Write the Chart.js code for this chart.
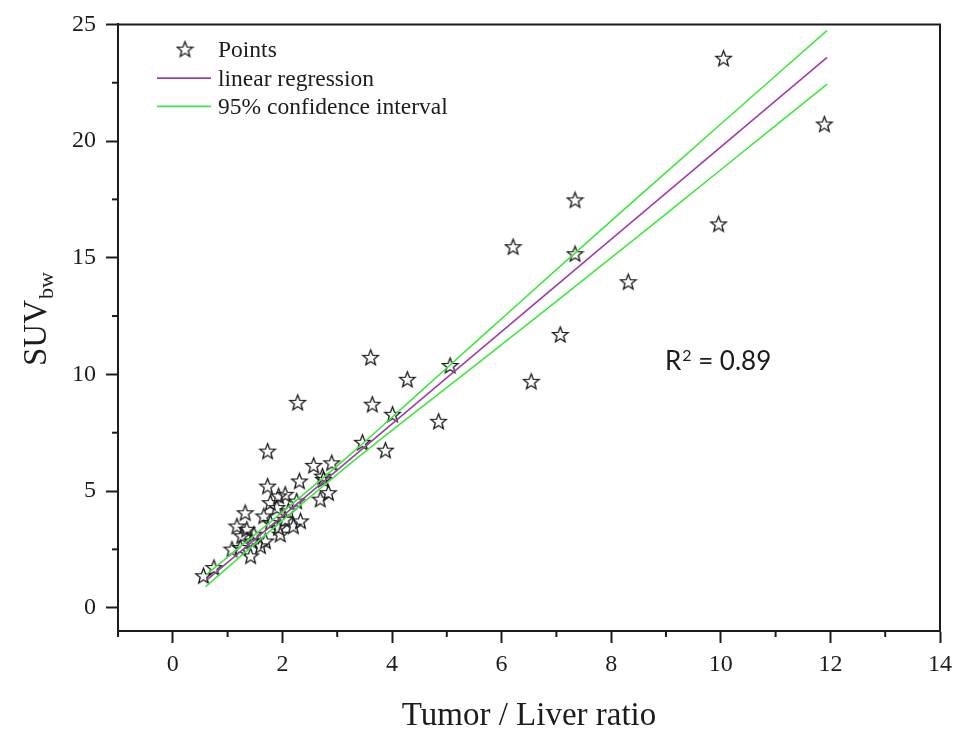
<!DOCTYPE html>
<html><head><meta charset="utf-8">
<script src="https://cdn.jsdelivr.net/npm/chart.js@4.4.1/dist/chart.umd.min.js"></script>
<style>html,body{margin:0;padding:0;background:#fff}#wrap{width:959px;height:736px;position:relative}</style>
</head><body><div id="wrap"><canvas id="c"></canvas></div>
<script>
// ---- data ----
const PTS_X = [10.05, 11.89, 7.34, 6.21, 7.34, 9.96, 8.31, 7.07, 6.54, 5.06, 3.61, 4.28, 3.64, 4.01, 4.85, 3.46, 3.88, 2.28, 1.73,
  2.57, 2.90, 2.75, 2.31, 1.73, 2.84, 2.69, 2.05, 2.26, 1.78, 1.90, 2.11, 1.93, 1.66, 1.32, 2.05, 2.33, 1.78, 1.93, 2.20,
  1.96, 1.17, 1.35, 1.26, 1.48, 1.44, 1.69, 1.08, 1.60, 1.23, 1.42, 0.75, 0.56, 2.73];
const PTS_Y = [23.55, 20.73, 17.48, 15.47, 15.17, 16.45, 13.97, 11.71, 9.70, 10.38, 10.73, 9.79, 8.72, 8.29, 7.99, 7.09, 6.75, 8.80, 6.71,
  6.10, 6.21, 5.50, 5.43, 5.21, 4.93, 4.65, 4.86, 4.57, 4.50, 4.29, 4.15, 4.79, 3.93, 4.07, 3.79, 3.72, 3.65, 3.43, 3.50,
  3.15, 3.50, 3.36, 3.08, 3.15, 2.86, 2.86, 2.51, 2.65, 2.58, 2.22, 1.72, 1.37, 5.64];
const REG_X = [0.6, 11.94];
const REG_Y = [1.15, 23.59];
const BAND_X = [0.6, 2, 3.3, 4.5, 5.6, 7, 8.5, 10, 11.94];
const BAND_UPPER = [1.40, 4.10, 6.69, 9.22, 11.54, 14.49, 17.62, 20.73, 24.74];
const BAND_LOWER = [0.90, 3.74, 6.29, 8.52, 10.54, 13.13, 15.94, 18.77, 22.44];
const X_MAJOR = [0, 2, 4, 6, 8, 10, 12, 14];
const X_MINOR = [-1, 1, 3, 5, 7, 9, 11, 13];
const Y_MAJOR = [0, 5, 10, 15, 20, 25];
const Y_MINOR = [2.5, 7.5, 12.5, 17.5, 22.5];
const LEGEND_LABELS = ['Points', 'linear regression', '95% confidence interval'];
const X_TITLE = 'Tumor / Liver ratio';
const Y_TITLE = 'SUV';
const Y_TITLE_SUB = 'bw';
const R2_MAIN = 'R';
const R2_SUP = '2';
const R2_REST = ' = 0.89';
const R2_AT = {x: 8.98, y: 10.17};

// ---- styles ----
const INK = '#1c1c1c';
const PURPLE = '#a03ca8';
const GREEN = '#3ee83e';
const SERIF = '"Liberation Serif", "Times New Roman", serif';
const SANS = 'Lato, "Open Sans", sans-serif';

function makeStar(size) {
  const c = document.createElement('canvas');
  c.width = size; c.height = size;
  const g = c.getContext('2d');
  const cx = size / 2, cy = size / 2 + 0.7;
  const R = size / 2 - 1.4, r = R * 0.43;
  g.beginPath();
  for (let i = 0; i < 10; i++) {
    const a = -Math.PI / 2 + i * Math.PI / 5;
    const rad = i % 2 ? r : R;
    g.lineTo(cx + rad * Math.cos(a), cy + rad * Math.sin(a));
  }
  g.closePath();
  g.lineWidth = 1.35;
  g.strokeStyle = INK;
  g.lineJoin = 'miter';
  g.stroke();
  return c;
}
const STAR = makeStar(19);

const pts = PTS_X.map((x, i) => ({x, y: PTS_Y[i]}));
const reg = REG_X.map((x, i) => ({x, y: REG_Y[i]}));
const up = BAND_X.map((x, i) => ({x, y: BAND_UPPER[i]}));
const lo = BAND_X.map((x, i) => ({x, y: BAND_LOWER[i]}));

const decor = {
  id: 'decor',
  afterDraw(chart) {
    const {ctx, chartArea: a, scales: {x, y}} = chart;
    ctx.save();
    ctx.strokeStyle = INK;
    ctx.lineWidth = 2;
    ctx.beginPath();
    ctx.moveTo(a.left - 1, a.top);
    ctx.lineTo(a.right, a.top);
    ctx.lineTo(a.right, a.bottom + 1);
    ctx.stroke();
    // minor ticks
    X_MINOR.forEach(v => {
      const px = x.getPixelForValue(v);
      ctx.beginPath(); ctx.moveTo(px, a.bottom); ctx.lineTo(px, a.bottom + 6); ctx.stroke();
    });
    Y_MINOR.forEach(v => {
      const py = y.getPixelForValue(v);
      ctx.beginPath(); ctx.moveTo(a.left, py); ctx.lineTo(a.left - 6, py); ctx.stroke();
    });
    // y title with subscript
    ctx.fillStyle = INK;
    ctx.save();
    ctx.translate(46, 366);
    ctx.rotate(-Math.PI / 2);
    ctx.font = '33px ' + SERIF;
    ctx.textAlign = 'left';
    ctx.textBaseline = 'alphabetic';
    ctx.fillText(Y_TITLE, 0, 0);
    const w = ctx.measureText(Y_TITLE).width;
    ctx.font = '22px ' + SERIF;
    ctx.fillText(Y_TITLE_SUB, w + 1, 7);
    ctx.restore();
    // legend
    const lx = a.left, ly = a.top;
    const rows = [ly + 24.7, ly + 53.7, ly + 82];
    ctx.drawImage(STAR, lx + 67 - STAR.width / 2, rows[0] - STAR.height / 2);
    ctx.lineWidth = 1.6;
    ctx.strokeStyle = PURPLE;
    ctx.beginPath(); ctx.moveTo(lx + 39, rows[1]); ctx.lineTo(lx + 93, rows[1]); ctx.stroke();
    ctx.strokeStyle = GREEN;
    ctx.beginPath(); ctx.moveTo(lx + 39, rows[2]); ctx.lineTo(lx + 93, rows[2]); ctx.stroke();
    ctx.font = '23.5px ' + SERIF;
    ctx.textBaseline = 'alphabetic';
    ctx.textAlign = 'left';
    LEGEND_LABELS.forEach((t, i) => ctx.fillText(t, lx + 100, rows[i] + 7.5));
    // R^2 annotation
    const rx = x.getPixelForValue(R2_AT.x), ry = y.getPixelForValue(R2_AT.y);
    ctx.font = '26px ' + SANS;
    ctx.fillText(R2_MAIN, rx, ry);
    const w1 = ctx.measureText(R2_MAIN).width;
    ctx.font = '16px ' + SANS;
    ctx.fillText(R2_SUP, rx + w1 + 1, ry - 9);
    const w2 = ctx.measureText(R2_SUP).width;
    ctx.font = '26px ' + SANS;
    ctx.fillText(R2_REST, rx + w1 + w2 + 1, ry);
    ctx.restore();
  }
};

new Chart(document.getElementById('c'), {
  type: 'scatter',
  data: {
    datasets: [
      {label: LEGEND_LABELS[1], data: reg, showLine: true, borderColor: PURPLE, borderWidth: 1.6, pointRadius: 0, order: 1},
      {label: LEGEND_LABELS[2], data: up, showLine: true, borderColor: GREEN, borderWidth: 1.6, pointRadius: 0, tension: 0.3, order: 2},
      {label: LEGEND_LABELS[2] + ' (lower)', data: lo, showLine: true, borderColor: GREEN, borderWidth: 1.6, pointRadius: 0, tension: 0.3, order: 2},
      {label: LEGEND_LABELS[0], data: pts, pointStyle: STAR, pointRadius: 9, order: 3}
    ]
  },
  options: {
    responsive: true,
    maintainAspectRatio: false,
    animation: false,
    layout: {padding: {left: 0, top: 22, right: 16, bottom: 0}},
    plugins: {legend: {display: false}, tooltip: {enabled: false}},
    scales: {
      x: {
        type: 'linear', min: -1, max: 14,
        afterBuildTicks: s => { s.ticks = X_MAJOR.map(v => ({value: v})); },
        afterFit: s => { s.height = 105; },
        grid: {display: true, drawOnChartArea: false, drawTicks: true, tickLength: 12, tickWidth: 2, tickColor: INK},
        border: {display: true, color: INK, width: 2},
        ticks: {font: {family: SERIF, size: 24}, color: INK, padding: 7, maxRotation: 0},
        title: {display: true, text: X_TITLE, font: {family: SERIF, size: 33}, color: INK, padding: {top: 0, bottom: 0}}
      },
      y: {
        type: 'linear', min: -1, max: 25,
        afterBuildTicks: s => { s.ticks = Y_MAJOR.map(v => ({value: v})); },
        afterFit: s => { s.width = 118; },
        grid: {display: true, drawOnChartArea: false, drawTicks: true, tickLength: 12, tickWidth: 2, tickColor: INK},
        border: {display: true, color: INK, width: 2},
        ticks: {font: {family: SERIF, size: 24}, color: INK, padding: 10},
        title: {display: false}
      }
    }
  },
  plugins: [decor]
});
</script>
</body></html>
